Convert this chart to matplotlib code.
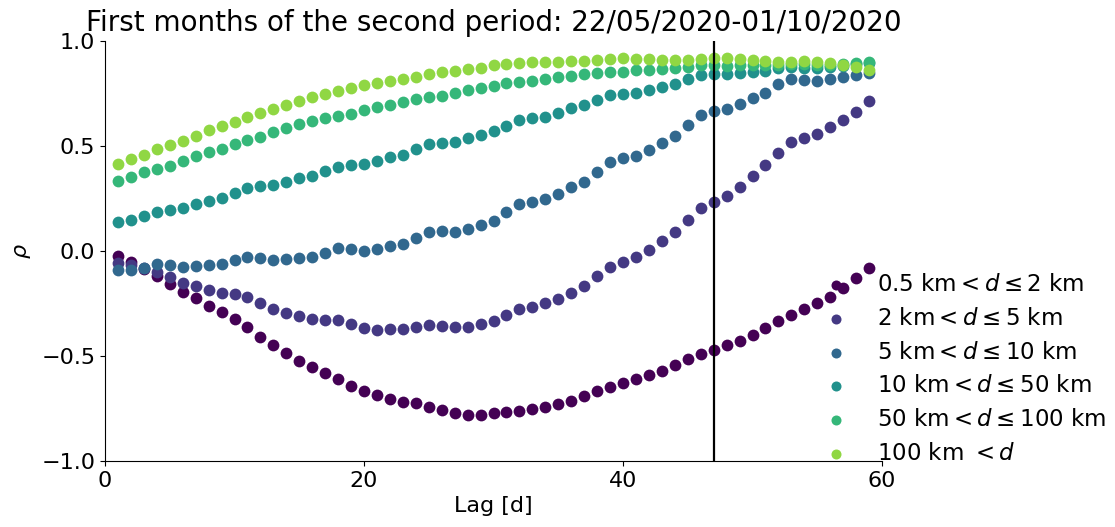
import numpy as np
import matplotlib
matplotlib.use("Agg")
import matplotlib.pyplot as plt

# Lag in days
lags = np.arange(1, 60)

# Spearman correlation per distance class
rho_05_2 = [-0.024, -0.051, -0.087, -0.119, -0.159, -0.194, -0.225, -0.262, -0.292, -0.324,
            -0.363, -0.408, -0.448, -0.484, -0.522, -0.554, -0.583, -0.611, -0.641, -0.667,
            -0.686, -0.705, -0.717, -0.725, -0.741, -0.757, -0.770, -0.781, -0.781, -0.773,
            -0.768, -0.762, -0.754, -0.741, -0.729, -0.714, -0.690, -0.665, -0.646, -0.630,
            -0.608, -0.589, -0.570, -0.541, -0.514, -0.492, -0.471, -0.449, -0.427, -0.400,
            -0.367, -0.333, -0.305, -0.276, -0.246, -0.217, -0.178, -0.127, -0.079]
rho_2_5 = [-0.056, -0.067, -0.083, -0.098, -0.122, -0.151, -0.167, -0.186, -0.202, -0.206,
           -0.217, -0.246, -0.276, -0.294, -0.310, -0.325, -0.329, -0.329, -0.349, -0.368,
           -0.376, -0.373, -0.373, -0.360, -0.352, -0.356, -0.363, -0.360, -0.349, -0.333,
           -0.305, -0.278, -0.265, -0.249, -0.229, -0.198, -0.167, -0.118, -0.078, -0.054,
           -0.029, 0.005, 0.046, 0.092, 0.148, 0.203, 0.232, 0.263, 0.306, 0.359,
           0.410, 0.468, 0.517, 0.540, 0.557, 0.589, 0.624, 0.663, 0.716]
rho_5_10 = [-0.090, -0.090, -0.079, -0.063, -0.068, -0.076, -0.071, -0.067, -0.063, -0.043,
            -0.027, -0.035, -0.043, -0.037, -0.033, -0.030, -0.008, 0.013, 0.008, 0.000,
            0.011, 0.024, 0.035, 0.062, 0.092, 0.095, 0.092, 0.105, 0.125, 0.144,
            0.184, 0.222, 0.235, 0.246, 0.271, 0.303, 0.330, 0.378, 0.422, 0.441,
            0.454, 0.481, 0.516, 0.548, 0.600, 0.648, 0.668, 0.676, 0.700, 0.727,
            0.751, 0.794, 0.817, 0.814, 0.810, 0.817, 0.827, 0.838, 0.850]
rho_10_50 = [0.136, 0.148, 0.168, 0.187, 0.195, 0.203, 0.225, 0.240, 0.254, 0.278,
             0.298, 0.308, 0.314, 0.330, 0.348, 0.359, 0.379, 0.402, 0.410, 0.413,
             0.429, 0.448, 0.459, 0.484, 0.508, 0.513, 0.521, 0.537, 0.554, 0.571,
             0.597, 0.624, 0.633, 0.640, 0.659, 0.679, 0.695, 0.719, 0.741, 0.748,
             0.754, 0.767, 0.783, 0.795, 0.817, 0.838, 0.841, 0.841, 0.846, 0.851,
             0.859, 0.870, 0.875, 0.870, 0.870, 0.875, 0.881, 0.890, 0.897]
rho_50_100 = [0.335, 0.354, 0.375, 0.390, 0.406, 0.429, 0.451, 0.470, 0.487, 0.511,
              0.529, 0.544, 0.568, 0.586, 0.605, 0.619, 0.633, 0.643, 0.654, 0.670,
              0.684, 0.694, 0.710, 0.722, 0.735, 0.738, 0.754, 0.767, 0.775, 0.786,
              0.798, 0.806, 0.811, 0.819, 0.830, 0.833, 0.841, 0.849, 0.851, 0.854,
              0.860, 0.863, 0.868, 0.870, 0.877, 0.884, 0.884, 0.881, 0.884, 0.884,
              0.884, 0.886, 0.889, 0.889, 0.886, 0.888, 0.890, 0.894, 0.902]
rho_100 = [0.413, 0.437, 0.457, 0.484, 0.505, 0.525, 0.548, 0.575, 0.594, 0.616,
           0.638, 0.659, 0.676, 0.694, 0.716, 0.732, 0.746, 0.763, 0.776, 0.789,
           0.798, 0.811, 0.819, 0.829, 0.844, 0.854, 0.859, 0.865, 0.871, 0.884,
           0.889, 0.897, 0.900, 0.900, 0.900, 0.905, 0.906, 0.908, 0.916, 0.919,
           0.914, 0.913, 0.910, 0.910, 0.910, 0.915, 0.921, 0.917, 0.913, 0.910,
           0.906, 0.899, 0.902, 0.905, 0.900, 0.894, 0.886, 0.875, 0.862]

series = [rho_05_2, rho_2_5, rho_5_10, rho_10_50, rho_50_100, rho_100]
labels = [r"0.5 km$<d\leq$2 km", r"2 km$<d\leq$5 km", r"5 km$<d\leq$10 km",
          r"10 km$<d\leq$50 km", r"50 km$<d\leq$100 km", r"100 km $<d$"]
lag_marker = 47

colors = plt.cm.viridis(np.linspace(0, 1, 7))[:6]

fig = plt.figure(figsize=(11.15, 5.27), dpi=100)
ax = fig.add_axes([105 / 1115, 1 - 461 / 527, 777 / 1115, 420 / 527])

for vals, lab, col in zip(series, labels, colors):
    ax.scatter(lags, vals, s=72, color=col, label=lab, linewidths=0, zorder=2)

ax.axvline(lag_marker, color="black", linewidth=1.6, zorder=3)

ax.set_xlim(0, 60)
ax.set_ylim(-1, 1)
ax.set_xticks([0, 20, 40, 60])
ax.set_yticks([-1.0, -0.5, 0.0, 0.5, 1.0])
ax.tick_params(labelsize=16)
ax.spines["top"].set_visible(False)
ax.spines["right"].set_visible(False)
ax.set_xlabel("Lag [d]", fontsize=16)
ax.set_ylabel(r"$\rho$", fontsize=16, labelpad=6)
ax.set_title("First months of the second period: 22/05/2020-01/10/2020",
             fontsize=20, pad=7)

ax.legend(loc="upper left", bbox_to_anchor=(804 / 1115, 1 - 264 / 527),
          bbox_transform=fig.transFigure, frameon=False, fontsize=16.5,
          borderaxespad=0, markerscale=0.85, labelspacing=0.47)

fig.savefig("out.png", dpi=100)
